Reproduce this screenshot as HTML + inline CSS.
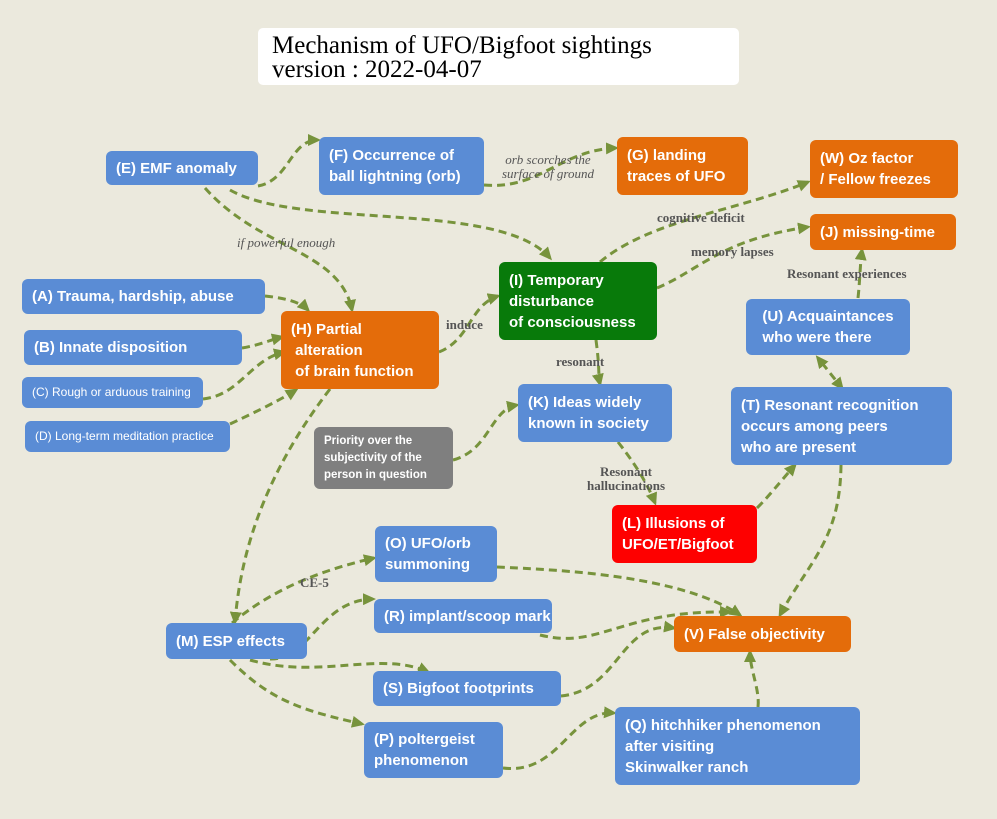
<!DOCTYPE html>
<html><head><meta charset="utf-8"><style>
body{margin:0;width:997px;height:819px;background:#ebe9dd;position:relative;overflow:hidden;font-family:"Liberation Sans",sans-serif}
.b{position:absolute;color:#fff;font-weight:bold;font-size:15px;line-height:21px;border-radius:6px;box-sizing:border-box;padding:0 10px;display:flex;flex-direction:column;justify-content:center;white-space:nowrap}
.bl{background:#5a8cd5}.or{background:#e46c0a}.gr{background:#087a0a}.rd{background:#fe0000}.gy{background:#7f7f7f}
.l{position:absolute;font-family:"Liberation Serif",serif;font-weight:bold;font-size:13px;color:#555;white-space:nowrap;line-height:14px;text-align:center}
svg{position:absolute;left:0;top:0}
</style></head><body>
<div style="position:absolute;left:258px;top:28px;width:481px;height:57px;background:#fff;border-radius:5px;font-family:'Liberation Serif',serif;font-size:25px;line-height:24px;padding:6px 14px;box-sizing:border-box">Mechanism of UFO/Bigfoot sightings<br>version : 2022-04-07</div>
<svg width="997" height="819"><defs><marker id="a" markerWidth="13" markerHeight="12" refX="10" refY="6" orient="auto" markerUnits="userSpaceOnUse" viewBox="0 0 13 12"><path d="M0,0L13,6L0,12z" fill="#77933c"/></marker><marker id="s" markerWidth="13" markerHeight="12" refX="3" refY="6" orient="auto-start-reverse" markerUnits="userSpaceOnUse" viewBox="0 0 13 12"><path d="M0,0L13,6L0,12z" fill="#77933c"/></marker></defs>
<g fill="none" stroke="#77933c" stroke-width="3" stroke-dasharray="8,5" marker-end="url(#a)">
<path d="M258,186C290,180 290,140 318,140"/>
<path d="M484,185C540,190 560,150 616,148"/>
<path d="M230,190C300,230 500,200 550,258"/>
<path d="M205,188C260,250 340,250 352,310"/>
<path d="M265,296C285,298 300,302 308,310"/>
<path d="M242,348C260,345 270,340 282,337"/>
<path d="M203,399C240,395 250,360 284,352"/>
<path d="M230,424C260,410 280,400 296,390"/>
<path d="M439,352C470,340 470,305 498,296"/>
<path d="M600,262C650,220 740,210 808,182"/>
<path d="M657,288C700,270 720,240 808,227"/>
<path d="M596,340C600,370 598,375 600,384"/>
<path d="M453,460C490,450 490,410 517,405"/>
<path d="M618,442C640,470 650,490 655,503"/>
<path d="M757,508C770,495 780,482 795,465"/>
<path d="M841,465C840,540 810,560 780,615"/>
<path d="M858,298C860,280 860,265 862,250"/>
<path d="M330,389C260,480 240,560 235,622" />
<path d="M232,623C260,600 300,575 374,558"/>
<path d="M270,659C310,660 320,600 373,599"/>
<path d="M250,660C320,680 380,650 428,672"/>
<path d="M230,660C270,700 300,710 362,724"/>
<path d="M497,567C560,570 680,575 740,615"/>
<path d="M540,635C600,650 620,610 730,612"/>
<path d="M561,696C620,690 620,620 674,628"/>
<path d="M503,768C560,775 570,710 614,713"/>
<path d="M758,707C760,690 750,670 750,652"/>
</g>
<path d="M822,363L842,388" stroke="#77933c" stroke-width="3" stroke-dasharray="8,5" marker-end="url(#a)" marker-start="url(#s)" fill="none"/>
</svg>
<div class="b bl" style="left:106px;top:151px;width:152px;height:34px">(E) EMF anomaly</div>
<div class="b bl" style="left:319px;top:137px;width:165px;height:58px">(F) Occurrence of<br>ball lightning (orb)</div>
<div class="b or" style="left:617px;top:137px;width:131px;height:58px">(G) landing<br>traces of UFO</div>
<div class="b or" style="left:810px;top:140px;width:148px;height:58px">(W) Oz factor<br>/ Fellow freezes</div>
<div class="b or" style="left:810px;top:214px;width:146px;height:36px">(J) missing-time</div>
<div class="b gr" style="left:499px;top:262px;width:158px;height:78px">(I) Temporary<br>disturbance<br>of consciousness</div>
<div class="b bl" style="left:22px;top:279px;width:243px;height:35px">(A) Trauma, hardship, abuse</div>
<div class="b bl" style="left:24px;top:330px;width:218px;height:35px">(B) Innate disposition</div>
<div class="b bl" style="left:22px;top:377px;width:181px;height:31px;font-weight:normal;font-size:12px">(C) Rough or arduous training</div>
<div class="b bl" style="left:25px;top:421px;width:205px;height:31px;font-weight:normal;font-size:12px">(D) Long-term meditation practice</div>
<div class="b or" style="left:281px;top:311px;width:158px;height:78px">(H) Partial<br>&nbsp;alteration<br>&nbsp;of brain function</div>
<div class="b bl" style="left:746px;top:299px;width:164px;height:56px;align-items:center">(U) Acquaintances<br>who were there</div>
<div class="b bl" style="left:518px;top:384px;width:154px;height:58px">(K) Ideas widely<br>known in society</div>
<div class="b bl" style="left:731px;top:387px;width:221px;height:78px">(T) Resonant recognition<br>occurs among peers<br>who are present</div>
<div class="b gy" style="left:314px;top:427px;width:139px;height:62px;font-size:11.5px;line-height:17px">Priority over the<br>subjectivity of the<br>person in question</div>
<div class="b rd" style="left:612px;top:505px;width:145px;height:58px">(L) Illusions of<br>UFO/ET/Bigfoot</div>
<div class="b bl" style="left:375px;top:526px;width:122px;height:56px">(O) UFO/orb<br>summoning</div>
<div class="b bl" style="left:374px;top:599px;width:178px;height:34px">(R) implant/scoop mark</div>
<div class="b bl" style="left:166px;top:623px;width:141px;height:36px">(M) ESP effects</div>
<div class="b or" style="left:674px;top:616px;width:177px;height:36px">(V) False objectivity</div>
<div class="b bl" style="left:373px;top:671px;width:188px;height:35px">(S) Bigfoot footprints</div>
<div class="b bl" style="left:364px;top:722px;width:139px;height:56px">(P) poltergeist<br>phenomenon</div>
<div class="b bl" style="left:615px;top:707px;width:245px;height:78px">(Q) hitchhiker phenomenon<br>after visiting<br>Skinwalker ranch</div>
<div class="l" style="left:502px;top:153px;font-style:italic;font-weight:normal">orb scorches the<br>surface of ground</div>
<div class="l" style="left:237px;top:236px;font-style:italic;font-weight:normal">if powerful enough</div>
<div class="l" style="left:657px;top:211px">cognitive deficit</div>
<div class="l" style="left:691px;top:245px">memory lapses</div>
<div class="l" style="left:787px;top:267px">Resonant experiences</div>
<div class="l" style="left:446px;top:318px">induce</div>
<div class="l" style="left:556px;top:355px">resonant</div>
<div class="l" style="left:587px;top:465px">Resonant<br>hallucinations</div>
<div class="l" style="left:300px;top:576px">CE-5</div>
</body></html>
